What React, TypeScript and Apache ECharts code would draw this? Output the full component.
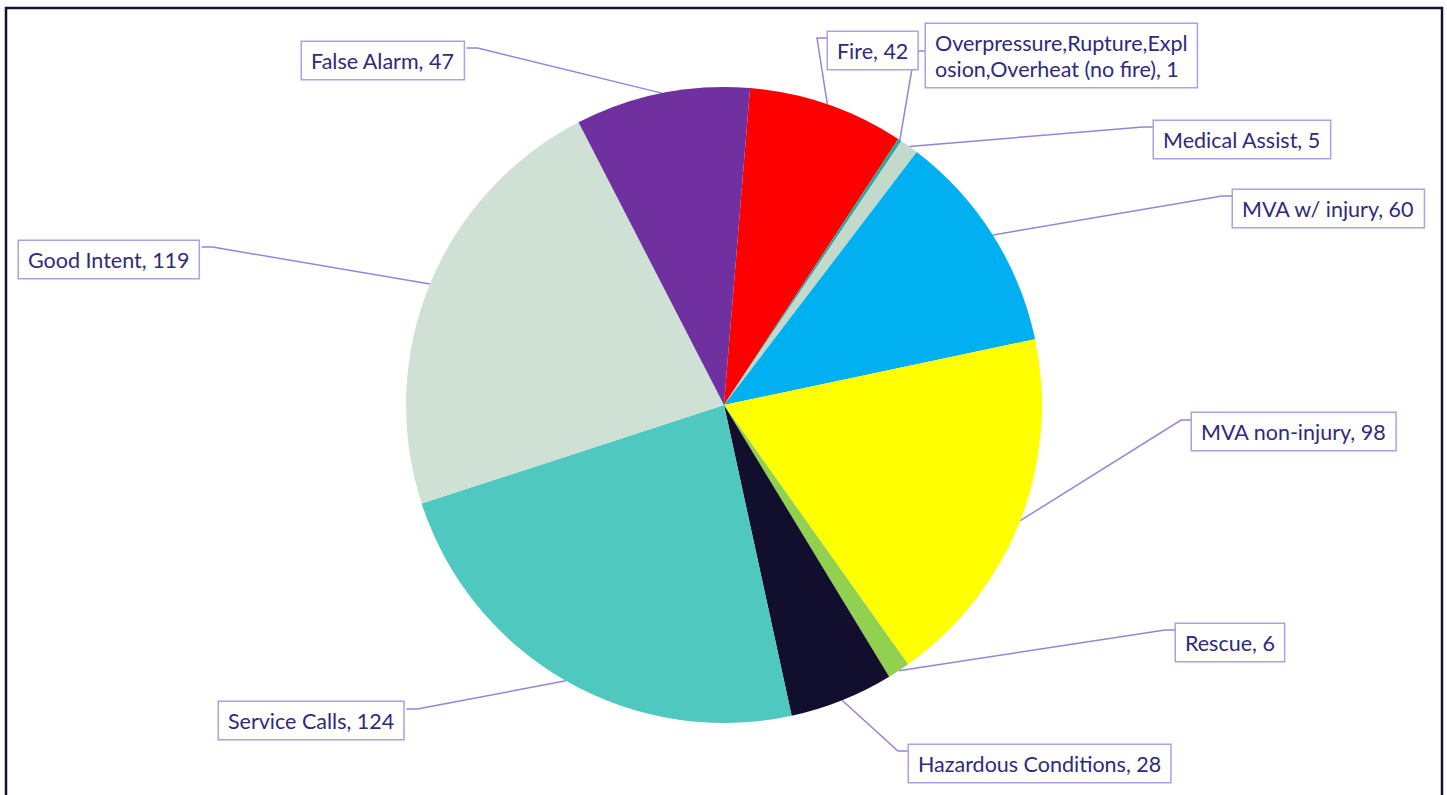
import React, { useEffect, useRef } from "react";
import * as echarts from "echarts";

const categories = [
  "Fire",
  "Overpressure,Rupture,Explosion,Overheat (no fire)",
  "Medical Assist",
  "MVA w/ injury",
  "MVA non-injury",
  "Rescue",
  "Hazardous Conditions",
  "Service Calls",
  "Good Intent",
  "False Alarm",
];
const values = [42, 1, 5, 60, 98, 6, 28, 124, 119, 47];
const colors = [
  "#ff0000",
  "#2ba89a",
  "#c3d9cc",
  "#00b0f0",
  "#ffff00",
  "#92d050",
  "#120f2e",
  "#4fc8bf",
  "#cfe1d5",
  "#7030a0",
];

// label box placement (top-left), side the leader line attaches to, and attach offset
const labelBoxes = [
  { x: 828, y: 32, side: "left", dy: 6 },
  { x: 926, y: 24, side: "left", dy: 27 },
  { x: 1154, y: 121, side: "left", dy: 6 },
  { x: 1233, y: 190, side: "left", dy: 6 },
  { x: 1192, y: 413, side: "left", dy: 7 },
  { x: 1176, y: 624, side: "left", dy: 6 },
  { x: 909, y: 745, side: "left", dy: 6 },
  { x: 219, y: 702, side: "right", dy: 7 },
  { x: 19, y: 241, side: "right", dy: 6 },
  { x: 302, y: 42, side: "right", dy: 6 },
];

function wrapLabel(s: string): string {
  const max = 25;
  if (s.length <= 30) return s;
  return s.slice(0, max) + "\n" + s.slice(max);
}

export default function App() {
  const ref = useRef<HTMLDivElement>(null);
  useEffect(() => {
    document.body.style.margin = "0";
    if (!ref.current) return;
    const chart = echarts.init(ref.current, undefined, { renderer: "svg" });
    const textColor = "#2f2a7c";
    const lineColor = "#8f86de";
    chart.setOption({
      animation: false,
      backgroundColor: "#ffffff",
      graphic: [
        {
          type: "rect",
          shape: { x: 6, y: 8, width: 1436, height: 800 },
          style: { fill: "none", stroke: "#15112f", lineWidth: 2.5 },
          silent: true,
        },
      ],
      series: [
        {
          type: "pie",
          center: [724, 405],
          radius: 318,
          startAngle: 85.3,
          clockwise: true,
          avoidLabelOverlap: false,
          emphasis: { disabled: true },
          data: categories.map((name, i) => ({
            name,
            value: values[i],
            itemStyle: { color: colors[i] },
          })),
          label: {
            show: true,
            position: "outside",
            formatter: (p: any) => wrapLabel(`${p.name}, ${p.value}`),
            color: textColor,
            fontFamily: "Lato, 'Open Sans', sans-serif",
            fontSize: 21.5,
            lineHeight: 26,
            backgroundColor: "#ffffff",
            borderColor: "#aaa1e8",
            borderWidth: 1.5,
            padding: [6, 9, 5, 9],
          },
          labelLine: {
            show: true,
            length: 10,
            length2: 10,
            smooth: false,
            lineStyle: { color: lineColor, width: 1.5 },
          },
          labelLayout: (params: any) => {
            const b = labelBoxes[params.dataIndex];
            const w = params.labelRect.width;
            const ay = b.y + b.dy;
            const ex = b.side === "left" ? b.x : b.x + w;
            const elbowX = b.side === "left" ? ex - 11 : ex + 11;
            const anchor = params.labelLinePoints
              ? params.labelLinePoints[0]
              : [ex, ay];
            return {
              x: b.x,
              y: b.y,
              align: "left",
              verticalAlign: "top",
              hideOverlap: false,
              labelLinePoints: [anchor, [elbowX, ay], [ex, ay]],
            };
          },
        },
      ],
    });
    return () => chart.dispose();
  }, []);
  return <div ref={ref} style={{ width: 1447, height: 795 }} />;
}
